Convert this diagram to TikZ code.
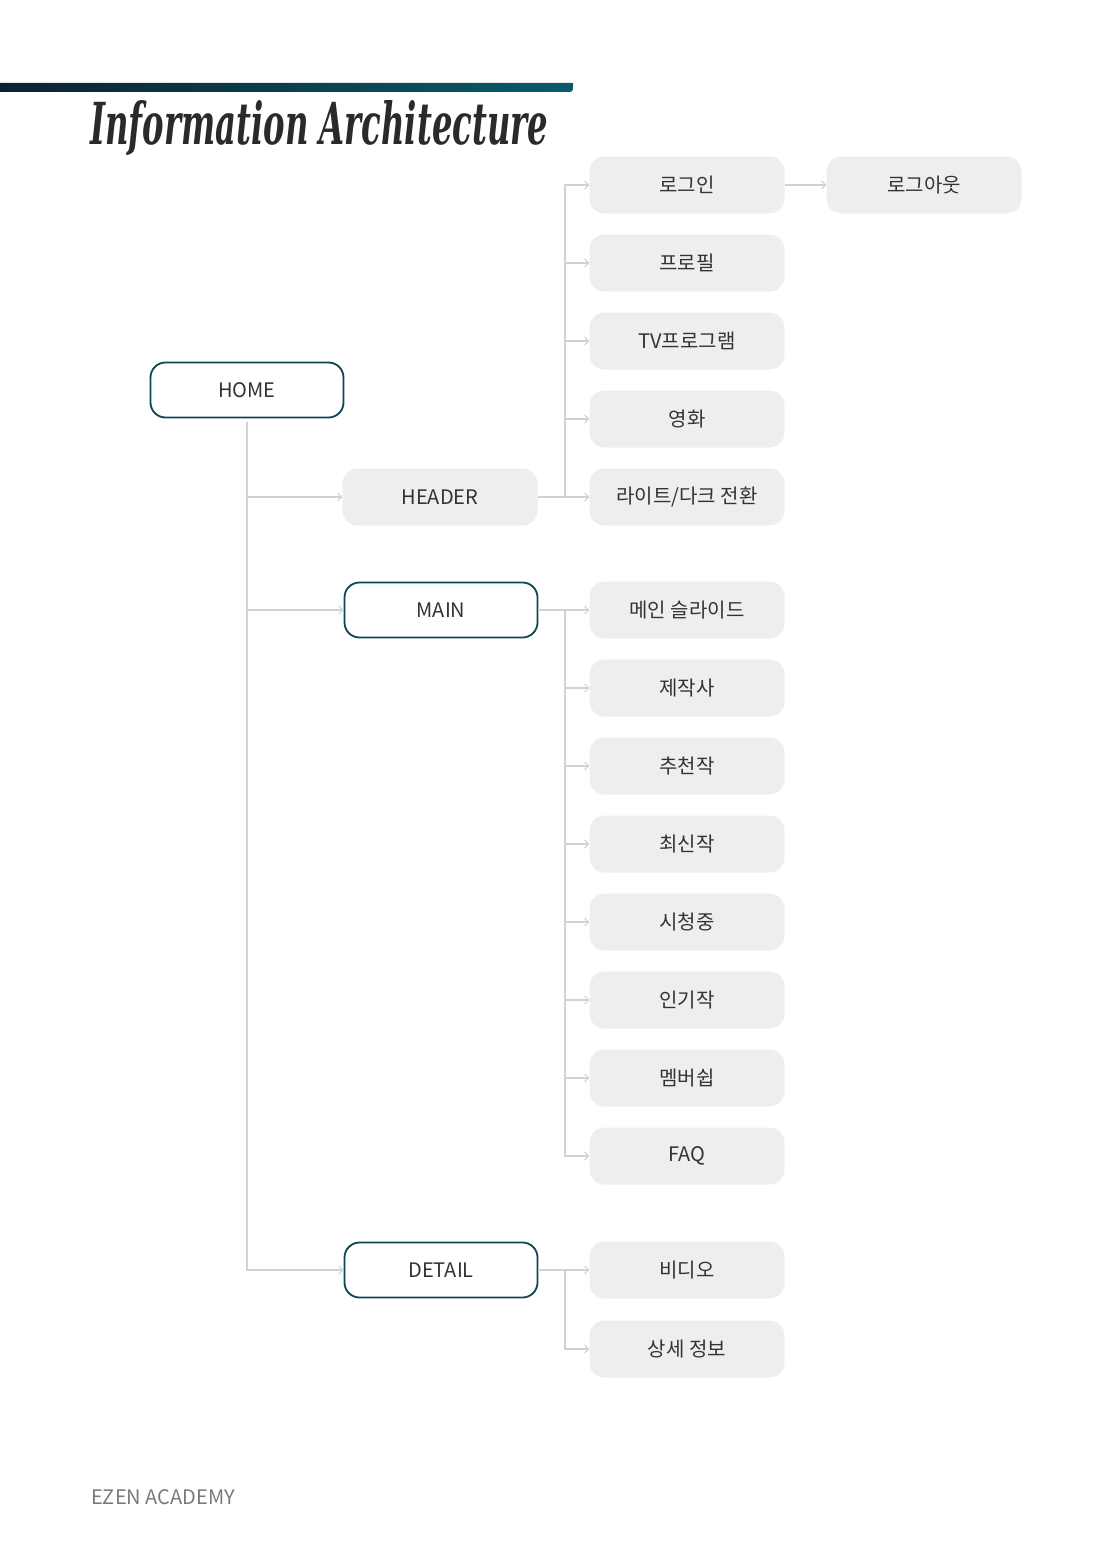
\documentclass[tikz,border=0pt]{standalone}
\usepackage{graphicx}
\usepackage{fontspec}
\setmainfont{Noto Sans CJK KR}
\newfontfamily\titlefont{DejaVu Serif}
\usetikzlibrary{arrows.meta}
\definecolor{boxgray}{HTML}{EEEEEE}
\definecolor{txt}{HTML}{333333}
\definecolor{outline}{HTML}{0E4552}
\definecolor{linegray}{HTML}{D2D2D2}
\definecolor{bardark}{HTML}{0C2130}
\definecolor{barteal}{HTML}{0A5C6A}
\definecolor{titlec}{HTML}{2A2A2A}
\definecolor{footc}{HTML}{7A7A7A}
\begin{document}
\begin{tikzpicture}[x=1pt,y=-1pt,
  gbox/.style={rectangle, rounded corners=15pt, fill=boxgray, minimum width=195pt, minimum height=57pt, text=txt, font=\fontsize{20}{24}\selectfont, inner sep=0pt},
  obox/.style={rectangle, rounded corners=15pt, draw=outline, line width=1.8pt, fill=white, minimum width=193pt, minimum height=55pt, text=txt, font=\fontsize{20}{24}\selectfont, inner sep=0pt},
  conn/.style={draw=linegray, line width=1.3pt},
  arr/.style={conn, -{Straight Barb[length=4pt,width=8pt,line width=1pt]}}
]
\useasboundingbox (0,0) rectangle (1112,1560);
% title bar
\shade[left color=bardark,right color=barteal] (0,83) -- (573,83) -- (573,85) .. controls (573,92) .. (566,92) -- (0,92) -- cycle;
\node[anchor=base west, text=titlec, inner sep=0pt] (title) at (90,145) {\resizebox{458pt}{44pt}{\titlefont\bfseries\itshape Information Architecture}};

% nodes
\node[obox] (home) at (247,390) {HOME};
\node[gbox] (header) at (440,497) {HEADER};
\node[obox] (main) at (441,610) {MAIN};
\node[obox] (detail) at (441,1270) {DETAIL};

\node[gbox] (login) at (687,185) {로그인};
\node[gbox] (logout) at (924,185) {로그아웃};
\node[gbox] (profile) at (687,263) {프로필};
\node[gbox] (tv) at (687,341) {TV프로그램};
\node[gbox] (movie) at (687,419) {영화};
\node[gbox] (mode) at (687,497) {라이트/다크 전환};

\node[gbox] (slide) at (687,610) {메인 슬라이드};
\node[gbox] (maker) at (687,688) {제작사};
\node[gbox] (rec) at (687,766) {추천작};
\node[gbox] (new) at (687,844) {최신작};
\node[gbox] (watch) at (687,922) {시청중};
\node[gbox] (pop) at (687,1000) {인기작};
\node[gbox] (member) at (687,1078) {멤버쉽};
\node[gbox] (faq) at (687,1156) {FAQ};

\node[gbox] (video) at (687,1270) {비디오};
\node[gbox] (info) at (687,1349) {상세 정보};

% connectors from HOME
\draw[arr] ([yshift=-4pt]home.south) |- (header.west);
\draw[arr] ([yshift=-4pt]home.south) |- (main.west);
\draw[arr] ([yshift=-4pt]home.south) |- (detail.west);

% HEADER
\coordinate (hj) at (565,497);
\draw[arr] (header.east) -- (mode.west);
\foreach \n in {login,profile,tv,movie} \draw[arr] (hj) |- (\n.west);
\draw[arr] (login.east) -- (logout.west);

% MAIN
\coordinate (mj) at (565,610);
\draw[arr] (main.east) -- (slide.west);
\foreach \n in {maker,rec,new,watch,pop,member,faq} \draw[arr] (mj) |- (\n.west);

% DETAIL
\coordinate (dj) at (565,1270);
\draw[arr] (detail.east) -- (video.west);
\draw[arr] (dj) |- (info.west);

% footer
\node[anchor=base west, text=footc, inner sep=0pt, font=\fontsize{20}{24}\selectfont] (footer) at (91,1504) {EZEN ACADEMY};
\end{tikzpicture}
\end{document}
